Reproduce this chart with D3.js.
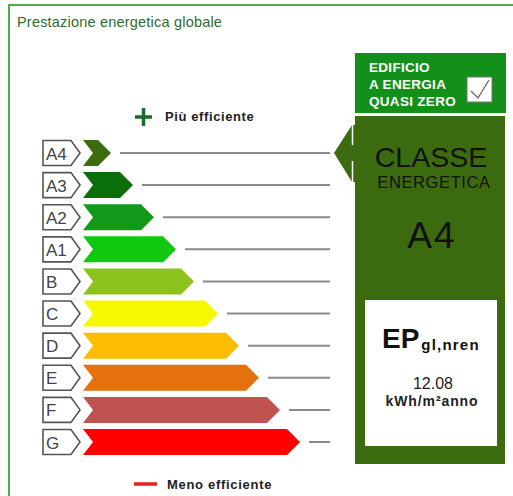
<!DOCTYPE html>
<html>
<head>
<meta charset="utf-8">
<script src="https://cdn.jsdelivr.net/npm/d3@7"></script>
<style>
  html, body { margin: 0; padding: 0; background: #fff; }
  svg { display: block; font-family: "Liberation Sans", Arial, sans-serif; }
</style>
</head>
<body>
<div id="chart"></div>
<script>
// energy classes, top (best) to bottom (worst)
const classes = ["A4", "A3", "A2", "A1", "B", "C", "D", "E", "F", "G"];
// length of each arrow bar, in px
const barLengths = [28, 50, 71, 93, 111, 135, 156, 176, 197, 217];
const barColors = ["#3c6c10", "#0a6e0a", "#12991a", "#10c810", "#8cc31c",
                   "#f7f700", "#fdbc00", "#e4700e", "#c05250", "#ff0000"];
const currentClass = "A4";
const epValue = "12.08";

(function() {
  const width = 513, height = 496;
  const svg = d3.select('#chart').append('svg')
    .attr('width', width).attr('height', height);

  // outer frame (runs off the right and bottom edges)
  svg.append('rect')
    .attr('x', 9).attr('y', 5).attr('width', 520).attr('height', 510)
    .attr('fill', 'none').attr('stroke', '#4caf4c').attr('stroke-width', 2);

  svg.append('text').attr('x', 17).attr('y', 27)
    .attr('fill', '#2e6b2e').style('font-size', '14.5px').style('letter-spacing', '0.2px')
    .text('Prestazione energetica globale');

  const y = d3.scalePoint().domain(classes).range([153, 442]);
  const x = d3.scaleLinear().domain([0, 217]).range([83, 300]);
  const bh = 26;
  const lineEnd = 330;

  // "Più efficiente" legend
  svg.append('path').attr('d', 'M135,117H152M143.5,108V126')
    .attr('stroke', '#1f6b2f').attr('stroke-width', 3.5);
  svg.append('text').attr('x', 165).attr('y', 121)
    .style('font-size', '13px').style('font-weight', 'bold').style('letter-spacing', '0.6px')
    .attr('fill', '#222')
    .text('Più efficiente');

  // "Meno efficiente" legend
  svg.append('line').attr('x1', 134).attr('x2', 157).attr('y1', 484).attr('y2', 484)
    .attr('stroke', '#e81c1c').attr('stroke-width', 3.5);
  svg.append('text').attr('x', 167).attr('y', 489)
    .style('font-size', '13px').style('font-weight', 'bold').style('letter-spacing', '0.7px')
    .attr('fill', '#222')
    .text('Meno efficiente');

  const rows = svg.append('g').selectAll('g.row')
    .data(classes.map((c, i) => ({ c, len: barLengths[i], color: barColors[i] })))
    .join('g').attr('class', 'row')
    .attr('transform', d => `translate(0,${y(d.c)})`);

  // label tag
  rows.append('path')
    .attr('d', `M43,${-bh/2 + 0.5}H71L80,0L71,${bh/2 - 0.5}H43Z`)
    .attr('fill', '#fff').attr('stroke', '#555').attr('stroke-width', 1.6);
  rows.append('text').attr('x', 46).attr('y', 6.5)
    .attr('fill', '#444').style('font-size', '17px')
    .text(d => d.c);

  // arrow bar with notch on the left
  rows.append('path')
    .attr('d', d => {
      const x0 = x(0), x1 = x(d.len), h = bh / 2;
      return `M${x0},${-h}L${x1 - h},${-h}L${x1},0L${x1 - h},${h}L${x0},${h}L${x0 + 10},0Z`;
    })
    .attr('fill', d => d.color);

  // guide lines
  rows.append('line')
    .attr('x1', d => x(d.len) + 9).attr('x2', lineEnd)
    .attr('y1', 0).attr('y2', 0)
    .attr('stroke', '#8a8a8a').attr('stroke-width', 2);

  // NZEB box
  svg.append('rect').attr('x', 355).attr('y', 53).attr('width', 151).attr('height', 60)
    .attr('fill', '#12901a');
  ['EDIFICIO', 'A ENERGIA', 'QUASI ZERO'].forEach((t, i) => {
    svg.append('text').attr('x', 369).attr('y', 72 + i * 17)
      .attr('fill', '#fff').style('font-size', '13.5px').style('font-weight', 'bold')
      .style('letter-spacing', '0.3px')
      .text(t);
  });
  svg.append('rect').attr('x', 467).attr('y', 77).attr('width', 25).attr('height', 25)
    .attr('fill', '#fff').attr('stroke', '#777').attr('stroke-width', 1);
  svg.append('path').attr('d', 'M471,91L478,98L489,80')
    .attr('fill', 'none').attr('stroke', '#666').attr('stroke-width', 1.3);

  // class panel
  const panelColor = '#3c6b0f';
  svg.append('rect').attr('x', 355).attr('y', 116).attr('width', 150).attr('height', 348)
    .attr('fill', panelColor);
  const ay = y(currentClass);
  svg.append('path')
    .attr('d', `M334,${ay}L352,${ay - 28}L356,${ay - 28}L356,${ay + 29}L352,${ay + 29}Z`)
    .attr('fill', panelColor);
  svg.append('line').attr('x1', 352.5).attr('x2', 352.5).attr('y1', ay - 28).attr('y2', ay - 8)
    .attr('stroke', '#fff').attr('stroke-width', 1.5);
  svg.append('line').attr('x1', 352.5).attr('x2', 352.5).attr('y1', ay + 8).attr('y2', ay + 29)
    .attr('stroke', '#fff').attr('stroke-width', 1.5);

  svg.append('text').attr('x', 431).attr('y', 167).attr('text-anchor', 'middle')
    .attr('fill', '#111').style('font-size', '28.5px').text('CLASSE');
  svg.append('text').attr('x', 434).attr('y', 188).attr('text-anchor', 'middle')
    .attr('fill', '#111').style('font-size', '16.5px').style('letter-spacing', '0.6px')
    .text('ENERGETICA');
  svg.append('text').attr('x', 432).attr('y', 248).attr('text-anchor', 'middle')
    .attr('fill', '#111').style('font-size', '37px').style('letter-spacing', '2px')
    .text(currentClass);

  // EP box
  svg.append('rect').attr('x', 365).attr('y', 300).attr('width', 132).attr('height', 146)
    .attr('fill', '#fff');
  const ep = svg.append('text').attr('x', 382).attr('y', 348).attr('fill', '#111');
  ep.append('tspan').style('font-size', '28px').style('font-weight', 'bold').text('EP');
  ep.append('tspan').attr('dx', 2).attr('dy', 2).style('font-size', '15px').style('font-weight', 'bold')
    .style('letter-spacing', '1.2px').text('gl,nren');
  svg.append('text').attr('x', 433).attr('y', 389).attr('text-anchor', 'middle')
    .attr('fill', '#222').style('font-size', '16px').text(epValue);
  svg.append('text').attr('x', 432).attr('y', 406).attr('text-anchor', 'middle')
    .attr('fill', '#222').style('font-size', '14px').style('font-weight', 'bold')
    .style('letter-spacing', '0.9px').text('kWh/m²anno');
})();
</script>
</body>
</html>
